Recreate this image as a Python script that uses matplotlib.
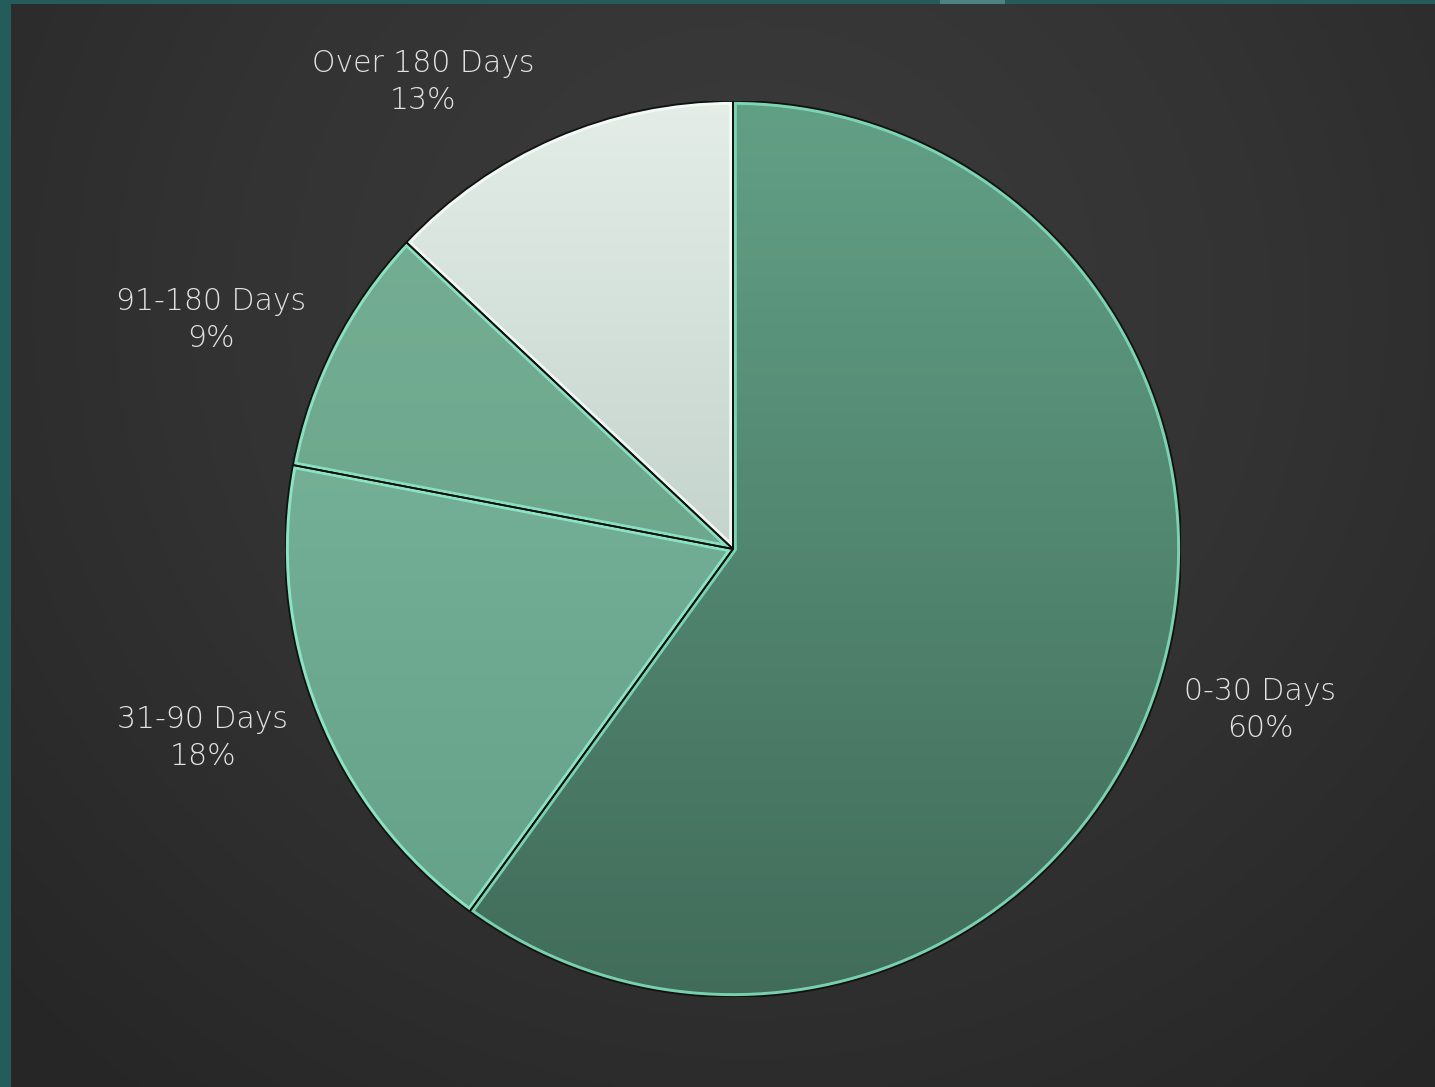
import numpy as np
import matplotlib
matplotlib.use("Agg")
import matplotlib.pyplot as plt
from matplotlib.patches import Wedge, Rectangle
from matplotlib.colors import LinearSegmentedColormap

categories = ["0-30 Days", "31-90 Days", "91-180 Days", "Over 180 Days"]
values = [60, 18, 9, 13]
pct_labels = ["60%", "18%", "9%", "13%"]

# gradient (top, bottom) colours per slice
top_colors = ["#62a086", "#80b9a1", "#76af95", "#e4ede8"]
bottom_colors = ["#416c5a", "#62a087", "#64a085", "#a4bab0"]
rim_colors = ["#7fdcb9", "#8eeac8", "#8ee6c6", "#f4fbf8"]

W, H = 1435, 1087
fig = plt.figure(figsize=(W / 100, H / 100), dpi=100)
fig.patch.set_facecolor("#245b5b")

# small lighter strip on top edge
fig.patches.append(Rectangle((940 / W, 1 - 4 / H), 65 / W, 4 / H,
                             transform=fig.transFigure, facecolor="#4e8181",
                             edgecolor="none", zorder=0))

# dark panel with radial gradient
bg = fig.add_axes([11 / W, 0, 1 - 11 / W, 1 - 4 / H])
bg.set_axis_off()
nx, ny = 400, 300
xx, yy = np.meshgrid(np.linspace(0, 1, nx), np.linspace(0, 1, ny))
cx, cy = 0.52, 0.72
d = np.sqrt(((xx - cx) * 1.3) ** 2 + ((yy - cy)) ** 2)
d = np.clip(d / 0.95, 0, 1)
bg_cmap = LinearSegmentedColormap.from_list("bg", ["#3c3c3c", "#333333", "#262626"])
bg.imshow(d, cmap=bg_cmap, extent=[0, 1, 0, 1], origin="lower", aspect="auto",
          vmin=0, vmax=1)
bg.set_xlim(0, 1)
bg.set_ylim(0, 1)

# pie axes: center (733,549), radius 448 px
cxp, cyp, r = 733, 549, 448
ax = fig.add_axes([(cxp - r) / W, (H - cyp - r) / H, 2 * r / W, 2 * r / H])
ax.set_xlim(-1, 1)
ax.set_ylim(-1, 1)
ax.set_axis_off()
ax.patch.set_alpha(0)

wedges, _ = ax.pie(values, startangle=90, counterclock=False, radius=1,
                   colors=top_colors, wedgeprops=dict(linewidth=0))

grad = np.linspace(0, 1, 256).reshape(-1, 1)
for i, w in enumerate(wedges):
    cmap = LinearSegmentedColormap.from_list("g%d" % i, [bottom_colors[i], top_colors[i]])
    im = ax.imshow(grad, cmap=cmap, extent=[-1, 1, -1, 1], origin="lower",
                   aspect="auto", zorder=2)
    im.set_clip_path(w)
    rim = Wedge(w.center, w.r, w.theta1, w.theta2, fill=False,
                edgecolor=rim_colors[i], linewidth=5.5, alpha=0.9, zorder=3)
    ax.add_patch(rim)
    rim.set_clip_path(w)
    outline = Wedge(w.center, w.r, w.theta1, w.theta2, fill=False,
                    edgecolor="#111111", linewidth=1.3, zorder=4)
    ax.add_patch(outline)

ax.set_xlim(-1, 1)
ax.set_ylim(-1, 1)

# labels (pixel positions of label centers)
label_pos = [(1260, 710), (203, 738), (211, 320), (423, 82)]
for cat, pct, (px, py) in zip(categories, pct_labels, label_pos):
    fig.text(px / W, 1 - py / H, cat + "\n" + pct, ha="center", va="center",
             color="#e2e2e2", fontsize=21.5, family="DejaVu Sans",
             fontweight="light", linespacing=1.38)

fig.savefig("out.png", dpi=100, facecolor=fig.get_facecolor())
